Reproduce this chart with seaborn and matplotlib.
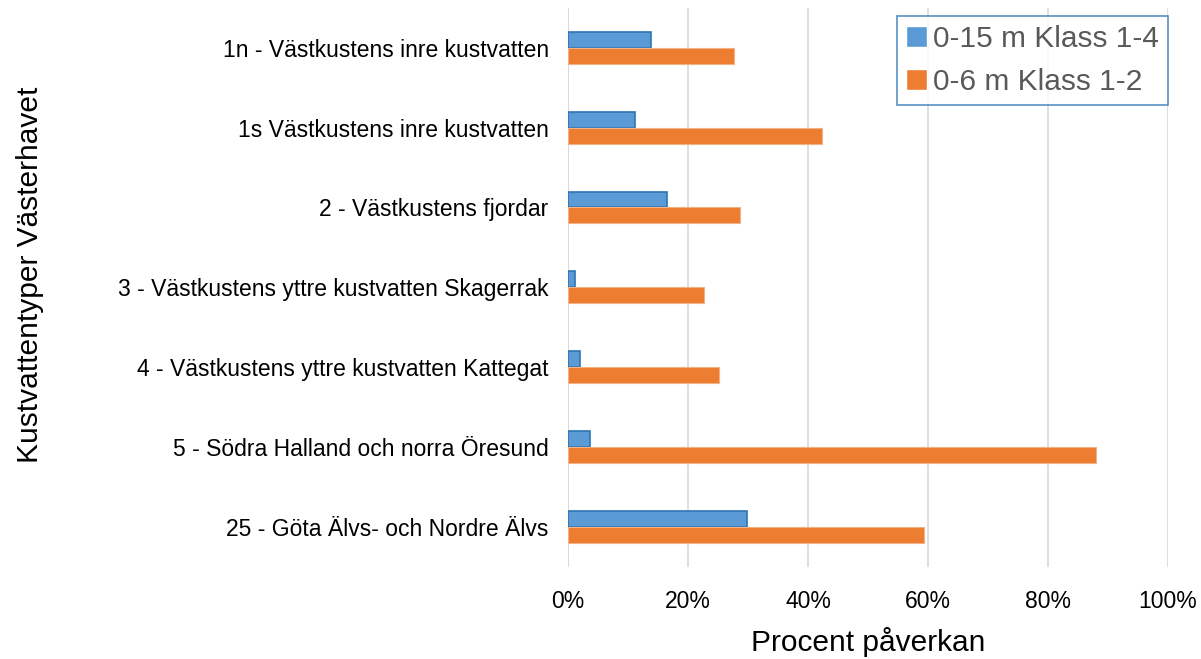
import pandas as pd
import numpy as np
import matplotlib
matplotlib.use("Agg")
import matplotlib.pyplot as plt
import seaborn as sns
from matplotlib.ticker import PercentFormatter

# data
kategorier = ["1n - Västkustens inre kustvatten",
              "1s Västkustens inre kustvatten",
              "2 - Västkustens fjordar",
              "3 - Västkustens yttre kustvatten Skagerrak",
              "4 - Västkustens yttre kustvatten Kattegat",
              "5 - Södra Halland och norra Öresund",
              "25 - Göta Älvs- och Nordre Älvs"]
serier = ["0-15 m Klass 1-4", "0-6 m Klass 1-2"]
klass_1_4 = [0.139, 0.112, 0.165, 0.012, 0.020, 0.036, 0.298]
klass_1_2 = [0.277, 0.424, 0.287, 0.226, 0.251, 0.880, 0.594]

df = pd.DataFrame({
    "kategori": kategorier * 2,
    "serie": [serier[0]] * len(kategorier) + [serier[1]] * len(kategorier),
    "varde": klass_1_4 + klass_1_2,
})

sns.set_style("white")
plt.rcParams["font.family"] = ["Liberation Sans", "DejaVu Sans"]
plt.rcParams["text.color"] = "black"
plt.rcParams["axes.labelcolor"] = "black"

fig = plt.figure(figsize=(12.01, 6.59), dpi=100)
ax = fig.add_axes([0.473, 0.14, 0.4995, 0.848])

farger = {serier[0]: "#5B9BD5", serier[1]: "#ED7D31"}
sns.barplot(data=df, y="kategori", x="varde", hue="serie", order=kategorier,
            hue_order=serier, palette=farger, orient="h", width=0.4,
            saturation=1, ax=ax, legend=True)

# edges like the original
for bar in ax.containers[0]:
    bar.set_edgecolor("#2E75B6")
    bar.set_linewidth(1.2)
for bar in ax.containers[1]:
    bar.set_edgecolor("#F4B183")
    bar.set_linewidth(0.8)

ax.set_xlim(0, 1)
ax.set_xticks(np.arange(0, 1.01, 0.2))
ax.xaxis.set_major_formatter(PercentFormatter(1.0, decimals=0))
ax.grid(axis="x", color="#D9D9D9", linewidth=1.2)
ax.set_axisbelow(True)
for s in ax.spines.values():
    s.set_visible(False)
ax.axvline(0, color="#D9D9D9", linewidth=1.2, zorder=0)
ax.tick_params(axis="both", length=0, labelsize=16.5, colors="#000000")
ax.tick_params(axis="y", pad=14)
ax.tick_params(axis="x", pad=17)

ax.set_xlabel("Procent påverkan", fontsize=21.5, labelpad=10, color="black")
ax.set_ylabel("")
fig.text(0.025, 0.583, "Kustvattentyper Västerhavet", rotation=90,
         fontsize=21.5, va="center", ha="center", color="black")

leg = ax.legend(loc="upper right", bbox_to_anchor=(1.0, 0.985), fontsize=21.5,
                frameon=True, fancybox=False, handlelength=0.7,
                handleheight=0.7, handletextpad=0.2, borderpad=0.3,
                labelspacing=0.5, borderaxespad=0)
leg.get_frame().set_edgecolor("#2E75B6")
leg.get_frame().set_linewidth(1.2)
for t in leg.get_texts():
    t.set_color("#595959")

fig.savefig("out.png", dpi=100)
